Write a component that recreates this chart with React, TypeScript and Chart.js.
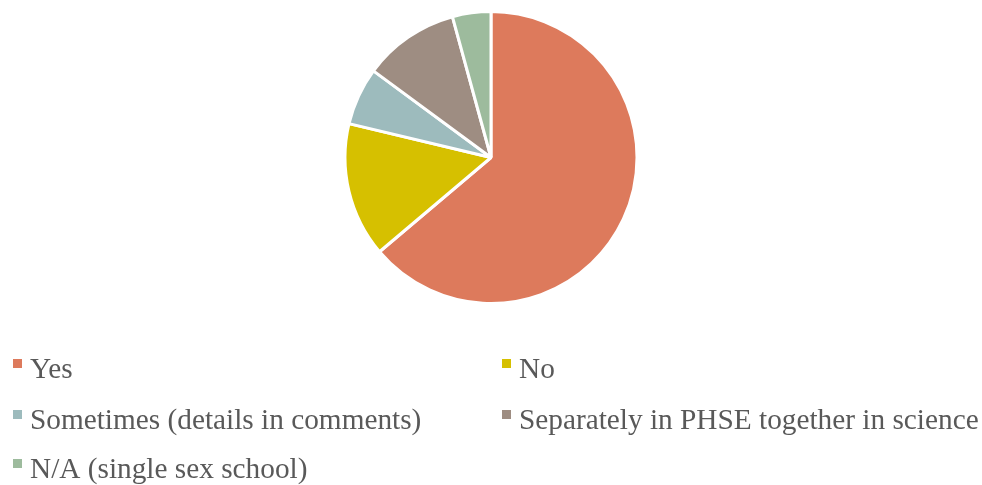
import { useEffect, useRef } from "react";
import { Chart, registerables } from "chart.js";

Chart.register(...registerables);

const labels = [
  "Yes",
  "No",
  "Sometimes (details in comments)",
  "Separately in PHSE together in science",
  "N/A (single sex school)",
];
const values = [30, 7, 3, 5, 2];
const colors = ["#DD7A5C", "#D6C000", "#9DBBBD", "#9E8D82", "#9DBB9D"];

const gridLegend = {
  id: "gridLegend",
  afterDraw(chart: any) {
    const ctx = chart.ctx;
    const labs: string[] = chart.data.labels;
    const cols: string[] = chart.data.datasets[0].backgroundColor;
    const colX = [13, 502];
    const rowBase = [378, 429, 478];
    ctx.save();
    ctx.font = "29.3px 'Liberation Serif', serif";
    ctx.textBaseline = "alphabetic";
    ctx.textAlign = "left";
    labs.forEach((l, i) => {
      const c = i % 2;
      const r = Math.floor(i / 2);
      const x = colX[c];
      const y = rowBase[r];
      ctx.fillStyle = cols[i];
      ctx.fillRect(x, y - 19, 9, 9);
      ctx.fillStyle = "#595959";
      ctx.fillText(l, x + 17, y);
    });
    ctx.restore();
  },
};

export default function App() {
  const ref = useRef<HTMLCanvasElement>(null);
  useEffect(() => {
    document.body.style.margin = "0";
    document.body.style.overflow = "hidden";
    if (!ref.current) return;
    const chart = new Chart(ref.current, {
      type: "pie",
      data: {
        labels,
        datasets: [
          {
            data: values,
            backgroundColor: colors,
            borderColor: "#ffffff",
            borderWidth: 3,
          },
        ],
      },
      options: {
        animation: false,
        responsive: false,
        layout: { padding: { top: 10, bottom: 180, left: 8, right: 8 } },
        plugins: {
          legend: { display: false },
          tooltip: { enabled: false },
        },
      },
      plugins: [gridLegend],
    });
    return () => chart.destroy();
  }, []);
  return (
    <div style={{ width: 982, height: 485 }}>
      <canvas ref={ref} width={982} height={485} style={{ display: "block" }} />
    </div>
  );
}
